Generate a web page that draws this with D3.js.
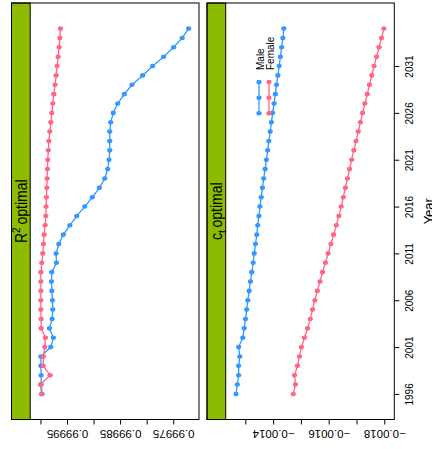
<!DOCTYPE html>
<html>
<head>
<meta charset="utf-8">
<script src="https://cdn.jsdelivr.net/npm/d3@7"></script>
<style>
  html, body { margin: 0; padding: 0; background: #fff; }
  svg { display: block; }
  text { font-family: "Liberation Sans", Arial, Helvetica, sans-serif; fill: #000; }
</style>
</head>
<body>
<svg id="chart" width="432" height="449"></svg>
<script>
// ---- data -------------------------------------------------------------
const years = [1996, 1997, 1998, 1999, 2000, 2001, 2002, 2003, 2004, 2005,
               2006, 2007, 2008, 2009, 2010, 2011, 2012, 2013, 2014, 2015,
               2016, 2017, 2018, 2019, 2020, 2021, 2022, 2023, 2024, 2025,
               2026, 2027, 2028, 2029, 2030, 2031, 2032, 2033, 2034, 2035];

const r2Male = [0.9999968, 0.9999987, 0.9999987, 0.9999992, 0.9999992,
                0.9999805, 0.9999756, 0.9999831, 0.9999780, 0.9999767,
                0.9999774, 0.9999786, 0.9999793, 0.9999786, 0.9999699,
                0.9999705, 0.9999654, 0.9999570, 0.9999447, 0.9999316,
                0.9999165, 0.9999023, 0.9998891, 0.9998789, 0.9998733,
                0.9998709, 0.9998694, 0.9998695, 0.9998695, 0.9998677,
                0.9998628, 0.9998545, 0.9998421, 0.9998276, 0.9998075,
                0.9997887, 0.9997680, 0.9997492, 0.9997331, 0.9997210];

const r2Female = [0.9999981, 0.9999998, 0.9999818, 0.9999949, 0.9999944,
                  0.9999917, 0.9999906, 0.9999987, 0.9999987, 0.9999992,
                  0.9999992, 0.9999992, 0.9999992, 0.9999992, 0.9999974,
                  0.9999955, 0.9999944, 0.9999930, 0.9999912, 0.9999898,
                  0.9999893, 0.9999887, 0.9999880, 0.9999874, 0.9999868,
                  0.9999861, 0.9999852, 0.9999842, 0.9999823, 0.9999805,
                  0.9999786, 0.9999767, 0.9999748, 0.9999724, 0.9999705,
                  0.9999686, 0.9999667, 0.9999648, 0.9999635, 0.9999624];

const ctMale = [-0.0012667, -0.0012713, -0.0012760, -0.0012760, -0.0012803,
                -0.0012760, -0.0012910, -0.0012961, -0.0013007, -0.0013050,
                -0.0013090, -0.0013140, -0.0013186, -0.0013233, -0.0013283,
                -0.0013323, -0.0013366, -0.0013412, -0.0013448, -0.0013491,
                -0.0013527, -0.0013574, -0.0013617, -0.0013663, -0.0013713,
                -0.0013760, -0.0013806, -0.0013849, -0.0013896, -0.0013939,
                -0.0013986, -0.0014036, -0.0014082, -0.0014125, -0.0014172,
                -0.0014219, -0.0014262, -0.0014308, -0.0014351, -0.0014387];

const ctFemale = [-0.0014728, -0.0014806, -0.0014771, -0.0014878, -0.0014950,
                  -0.0015021, -0.0015129, -0.0015240, -0.0015337, -0.0015419,
                  -0.0015505, -0.0015591, -0.0015688, -0.0015778, -0.0015882,
                  -0.0015982, -0.0016082, -0.0016179, -0.0016276, -0.0016369,
                  -0.0016451, -0.0016527, -0.0016602, -0.0016677, -0.0016753,
                  -0.0016828, -0.0016907, -0.0016986, -0.0017064, -0.0017143,
                  -0.0017222, -0.0017304, -0.0017387, -0.0017469, -0.0017552,
                  -0.0017634, -0.0017724, -0.0017813, -0.0017903, -0.0017989];

const seriesNames = ["Male", "Female"];
const seriesColors = ["#3399ff", "#ff6688"];

const yearTicks = [1996, 2001, 2006, 2011, 2016, 2021, 2026, 2031];
const r2Ticks = [1.0, 0.99995, 0.9999, 0.99985, 0.9998, 0.99975];
const r2TickLabels = ["", "0.99995", "", "0.99985", "", "0.99975"];
const ctTicks = [-0.0013, -0.0014, -0.0015, -0.0016, -0.0017, -0.0018];
const ctTickLabels = ["", "\u22120.0014", "", "\u22120.0016", "", "\u22120.0018"];

// ---- layout -----------------------------------------------------------
const svg = d3.select("#chart");
const topY = 3, bottomY = 419.5;
const stripW = 18.7;
const sx = 1.15;            // horizontal glyph stretch
const stripFill = "#8dbb00";

// padded range (7% each side)
function padded(lo, hi) {
  const p = (hi - lo) * 0.07;
  return [lo - p, hi + p];
}

const yExt = padded(d3.min(years), d3.max(years));
const y = d3.scaleLinear().domain(yExt).range([bottomY, topY]);

const panels = [
  { x0: 11.5, x1: 199, series: [r2Male, r2Female], ticks: r2Ticks, labels: r2TickLabels, strip: "r2" },
  { x0: 207, x1: 394.3, series: [ctMale, ctFemale], ticks: ctTicks, labels: ctTickLabels, strip: "ct" }
];

panels.forEach((p, pi) => {
  const plotX0 = p.x0 + stripW;
  const all = p.series.flat();
  const [lo, hi] = padded(d3.min(all), d3.max(all));
  const x = d3.scaleLinear().domain([hi, lo]).range([plotX0, p.x1]);

  const g = svg.append("g");

  // strip
  g.append("rect")
    .attr("x", p.x0).attr("y", topY)
    .attr("width", stripW).attr("height", bottomY - topY)
    .attr("fill", stripFill).attr("stroke", "#000").attr("stroke-width", 1);

  const stripCx = p.x0 + stripW / 2 + 6;
  const stripCy = (topY + bottomY) / 2;
  const st = g.append("text")
    .attr("transform", `translate(${stripCx},${stripCy}) scale(${sx},1) rotate(-90)`)
    .attr("text-anchor", "middle")
    .style("font-size", "14px");
  if (p.strip === "r2") {
    st.append("tspan").text("R");
    st.append("tspan").attr("dy", -6).style("font-size", "10px").text("2");
    st.append("tspan").attr("dy", 6).text("\u2009optimal");
  } else {
    st.append("tspan").text("c");
    st.append("tspan").attr("dy", 3.5).style("font-size", "10px").text("t");
    st.append("tspan").attr("dy", -3.5).text("\u2009optimal");
  }

  // series: lines then points
  p.series.forEach((vals, si) => {
    const pts = years.map((yr, i) => [x(vals[i]), y(yr)]);
    g.append("path")
      .attr("d", d3.line()(pts))
      .attr("fill", "none")
      .attr("stroke", seriesColors[si])
      .attr("stroke-width", 1.3);
    g.selectAll(null).data(pts).enter().append("ellipse")
      .attr("cx", d => d[0]).attr("cy", d => d[1])
      .attr("rx", 2.6).attr("ry", 2.3)
      .attr("fill", seriesColors[si]);
  });

  // panel box
  g.append("rect")
    .attr("x", p.x0).attr("y", topY)
    .attr("width", p.x1 - p.x0).attr("height", bottomY - topY)
    .attr("fill", "none").attr("stroke", "#000").attr("stroke-width", 1);

  // value axis along the bottom, labels upside down
  const ax = g.append("g")
    .attr("transform", `translate(0,${bottomY})`)
    .call(d3.axisBottom(x).tickValues(p.ticks)
      .tickFormat((d, i) => p.labels[i]).tickSize(5).tickSizeOuter(0));
  ax.select(".domain").remove();
  ax.selectAll(".tick line").attr("stroke", "#000");
  ax.selectAll(".tick text")
    .attr("y", null).attr("dy", null)
    .attr("transform", `translate(0,10.5) scale(${sx},1) rotate(180)`)
    .attr("text-anchor", "middle")
    .style("font-size", "10px")
    .style("font-family", "'Liberation Sans', Arial, sans-serif")
    .attr("fill", "#000");

  // year axis on the right of the last panel
  if (pi === panels.length - 1) {
    const ay = svg.append("g")
      .attr("transform", `translate(${p.x1},0)`)
      .call(d3.axisRight(y).tickValues(yearTicks).tickFormat(d3.format("d"))
        .tickSize(5).tickSizeOuter(0));
    ay.select(".domain").remove();
    ay.selectAll(".tick line").attr("stroke", "#000");
    ay.selectAll(".tick text")
      .attr("x", null).attr("dy", null)
      .attr("transform", `translate(19,0) scale(${sx},1) rotate(-90)`)
      .attr("text-anchor", "middle")
      .style("font-size", "10px")
      .style("font-family", "'Liberation Sans', Arial, sans-serif")
      .attr("fill", "#000");

    svg.append("text")
      .attr("transform", `translate(433.5,${stripCy}) scale(${sx},1) rotate(-90)`)
      .attr("text-anchor", "middle")
      .style("font-size", "13px")
      .text("Year");

    // key
    const keyX = [259, 269];
    const keyY = [82, 97.7, 113.3];
    seriesNames.forEach((name, si) => {
      svg.append("line")
        .attr("x1", keyX[si]).attr("x2", keyX[si])
        .attr("y1", keyY[0]).attr("y2", keyY[2])
        .attr("stroke", seriesColors[si]).attr("stroke-width", 1.3);
      keyY.forEach(ky => svg.append("ellipse")
        .attr("cx", keyX[si]).attr("cy", ky)
        .attr("rx", 2.6).attr("ry", 2.3)
        .attr("fill", seriesColors[si]));
      svg.append("text")
        .attr("transform", `translate(${keyX[si] + 5},70) scale(${sx},1) rotate(-90)`)
        .attr("text-anchor", "start")
        .style("font-size", "10px")
        .text(name);
    });
  }
});
</script>
</body>
</html>
